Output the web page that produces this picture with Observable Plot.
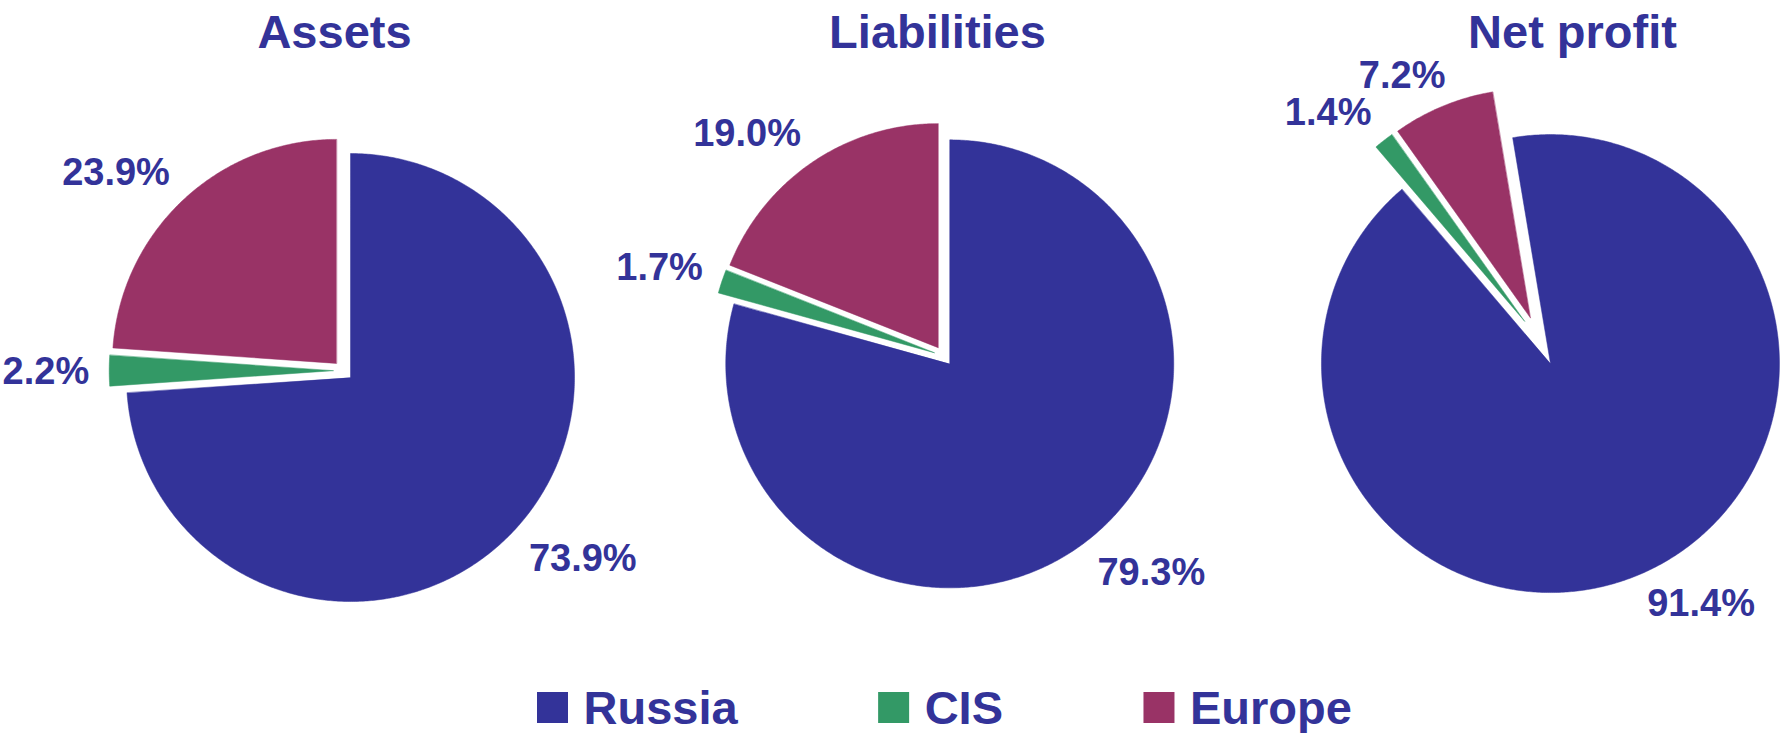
<!DOCTYPE html>
<html>
<head>
<meta charset="utf-8">
<script src="https://cdn.jsdelivr.net/npm/d3@7"></script>
<script src="https://cdn.jsdelivr.net/npm/@observablehq/plot@0.6"></script>
<style>
  html, body { margin: 0; padding: 0; background: #ffffff; }
  #chart svg { display: block; }
</style>
</head>
<body>
<div id="chart"></div>
<script>
// ---- Data ----
const categories = ["Russia", "CIS", "Europe"];
const charts = ["Assets", "Liabilities", "Net profit"];
const assets = [73.9, 2.2, 23.9];
const liabilities = [79.3, 1.7, 19.0];
const netProfit = [91.4, 1.4, 7.2];
const colors = ["#333399", "#339966", "#993366"];

// ---- Layout (pixels) ----
const W = 1783, H = 733;
const textColor = "#333399";
const fontFamily = "'Liberation Sans', Arial, Helvetica, sans-serif";
const layout = [
  {cx: 342.7, cy: 370.2, r: 224, explode: 10, start: 0, titleX: 334},
  {cx: 943.2, cy: 355.4, r: 224, explode: 10, start: 0, titleX: 937},
  {cx: 1539.4, cy: 340.4, r: 229, explode: 25, start: -9.5, titleX: 1572}
];
const titleBaseline = 47, titleSize = 47;
const labelSize = 38, labelGap = 20, labelCapHalf = 13.6;
const legend = {x0: 537, top: 692, size: 31, baseline: 723, fontSize: 47, swatchGap: 15, itemGap: 141};

const ctx = document.createElement("canvas").getContext("2d");
function textWidth(s, size) {
  ctx.font = `bold ${size}px ${fontFamily}`;
  return ctx.measureText(s).width;
}
const clamp = v => Math.max(-1, Math.min(1, v));

// ---- Geometry derived from the data ----
const series = [assets, liabilities, netProfit];
const slicePts = [];
const labels = [];
charts.forEach((name, i) => {
  const L = layout[i];
  const a0 = L.start * Math.PI / 180;
  const arcs = d3.pie().sort(null).startAngle(a0).endAngle(a0 + 2 * Math.PI)(series[i]);
  arcs.forEach((a, j) => {
    const mid = (a.startAngle + a.endAngle) / 2;
    const dx = Math.sin(mid), dy = -Math.cos(mid);
    const ox = L.cx + L.explode * dx, oy = L.cy + L.explode * dy;
    const id = name + "|" + categories[j];
    slicePts.push({id, cat: categories[j], x: ox, y: oy});
    const span = a.endAngle - a.startAngle;
    const n = Math.max(2, Math.ceil(span / (Math.PI / 360)));
    for (let k = 0; k <= n; k++) {
      const t = a.startAngle + span * k / n;
      slicePts.push({id, cat: categories[j], x: ox + L.r * Math.sin(t), y: oy - L.r * Math.cos(t)});
    }
    // label: nearest box corner on the mid-angle ray, just outside the arc
    const txt = a.data.toFixed(1) + "%";
    const w = textWidth(txt, labelSize), h = 2 * labelCapHalf;
    const px = ox + dx * (L.r + labelGap), py = oy + dy * (L.r + labelGap);
    const lx = px + clamp(2 * dx) * w / 2;
    const ly = py + clamp(2 * dy) * h / 2;
    labels.push({x: lx, y: ly + labelCapHalf, text: txt});
  });
});

const titles = charts.map((name, i) => ({x: layout[i].titleX, y: titleBaseline, text: name}));

// legend items
const legendItems = [];
let lx = legend.x0;
categories.forEach((c, j) => {
  const tw = textWidth(c, legend.fontSize);
  legendItems.push({cat: c, x1: lx, x2: lx + legend.size, y1: legend.top, y2: legend.top + legend.size,
                    tx: lx + legend.size + legend.swatchGap, ty: legend.baseline});
  lx += legend.size + legend.swatchGap + tw + legend.itemGap;
});

const plot = Plot.plot({
  width: W,
  height: H,
  margin: 0,
  x: {domain: [0, W], range: [0, W], axis: null},
  y: {domain: [0, H], range: [0, H], axis: null},
  color: {domain: categories, range: colors},
  style: {fontFamily, background: "#ffffff", overflow: "visible"},
  marks: [
    Plot.line(slicePts, {x: "x", y: "y", z: "id", fill: "cat", stroke: "cat", strokeWidth: 0.5, curve: "linear-closed"}),
    Plot.text(labels, {x: "x", y: "y", text: "text", fill: textColor, fontSize: labelSize, fontWeight: "bold",
                       textAnchor: "middle", lineAnchor: "bottom"}),
    Plot.text(titles, {x: "x", y: "y", text: "text", fill: textColor, fontSize: titleSize, fontWeight: "bold",
                       textAnchor: "middle", lineAnchor: "bottom"}),
    Plot.rect(legendItems, {x1: "x1", x2: "x2", y1: "y1", y2: "y2", fill: "cat"}),
    Plot.text(legendItems, {x: "tx", y: "ty", text: "cat", fill: textColor, fontSize: legend.fontSize, fontWeight: "bold",
                            textAnchor: "start", lineAnchor: "bottom"})
  ]
});
document.getElementById("chart").appendChild(plot);
</script>
</body>
</html>
